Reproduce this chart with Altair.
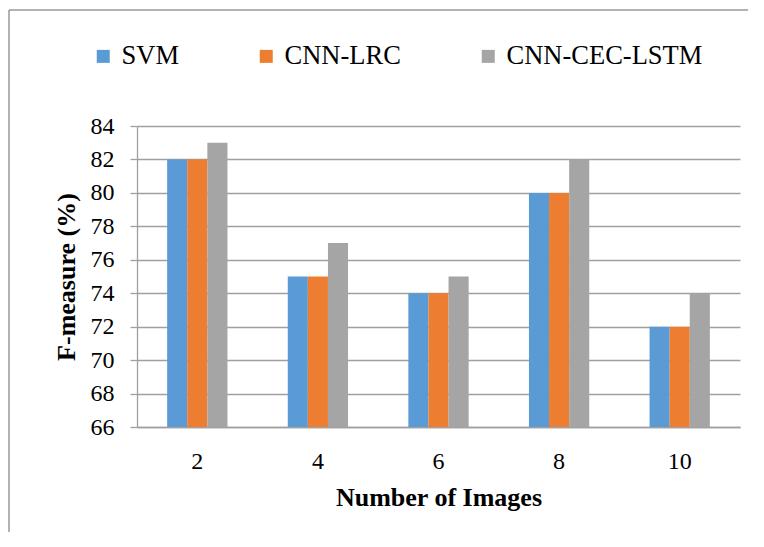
import altair as alt
import pandas as pd

categories = ["2", "4", "6", "8", "10"]
series = ["SVM", "CNN-LRC", "CNN-CEC-LSTM"]
svm = [82, 75, 74, 80, 72]
cnn_lrc = [82, 75, 74, 80, 72]
cnn_cec_lstm = [83, 77, 75, 82, 74]
colors = ["#5B9BD5", "#ED7D31", "#A5A5A5"]
y_ticks = [66, 68, 70, 72, 74, 76, 78, 80, 82, 84]

rows = []
for name, vals in zip(series, [svm, cnn_lrc, cnn_cec_lstm]):
    for c, v in zip(categories, vals):
        rows.append({"images": c, "method": name, "value": v})
df = pd.DataFrame(rows)

FONT = "Liberation Serif"
GRID = "#A0A0A0"

bars = alt.Chart(df).mark_bar(clip=True).encode(
    x=alt.X("images:N", sort=categories,
            scale=alt.Scale(paddingInner=0.5, paddingOuter=0.25),
            axis=alt.Axis(title="Number of Images", labelAngle=0, ticks=False,
                          labelPadding=22, labelFontSize=24,
                          titleFontSize=26, titleFontWeight="bold", titleY=57,
                          domainColor=GRID, domainWidth=1.3)),
    xOffset=alt.XOffset("method:N", sort=series, scale=alt.Scale(paddingInner=0, paddingOuter=0)),
    y=alt.Y("value:Q", scale=alt.Scale(domain=[66, 84], nice=False, zero=False),
            axis=alt.Axis(title="F-measure (%)", values=y_ticks, tickSize=7,
                          tickColor=GRID, tickWidth=1.3, gridColor=GRID, gridWidth=1.3,
                          domainColor=GRID, domainWidth=1.3, labelPadding=16,
                          labelFontSize=24, titleFontSize=26, titleFontWeight="bold",
                          titleBaseline="alphabetic", titleX=-63)),
    color=alt.Color("method:N", sort=series,
                    scale=alt.Scale(domain=series, range=colors),
                    legend=alt.Legend(title=None, orient="none", direction="horizontal",
                                      legendX=-47, legendY=-83, symbolType="square",
                                      symbolSize=169, symbolStrokeWidth=0,
                                      labelFontSize=26.5,
                                      labelLimit=0, labelOffset=5, columnPadding=74,
                                      padding=0)),
)

border_df = pd.DataFrame({"a": [0]})
left_border = alt.Chart(border_df).mark_rule(color="#999999", strokeWidth=1.5).encode(
    x=alt.value(-128), y=alt.value(-116), y2=alt.value(420))
top_border = alt.Chart(border_df).mark_rule(color="#999999", strokeWidth=1.5).encode(
    x=alt.value(-128), x2=alt.value(630), y=alt.value(-116))

chart = alt.layer(bars, left_border, top_border).properties(
    width=603, height=301,
    autosize=alt.AutoSizeParams(type="none"),
    padding={"left": 129, "top": 118, "right": 8, "bottom": 105},
    background="white",
).configure(font=FONT).configure_view(stroke=None).configure_axis(
    labelFont=FONT, titleFont=FONT, labelColor="#000000", titleColor="#000000"
).configure_legend(labelFont=FONT, labelColor="#000000")

chart.save("out.html", embed_options={"renderer": "svg", "actions": False})
